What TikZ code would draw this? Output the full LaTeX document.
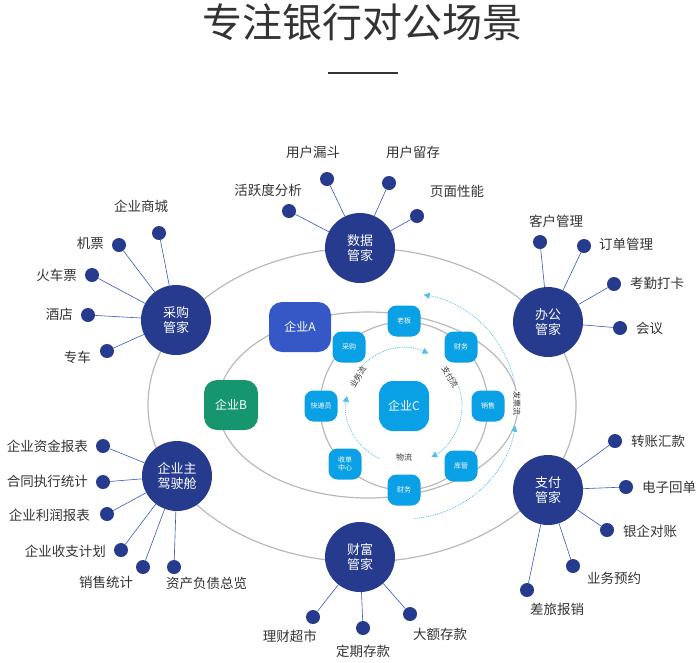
\documentclass[tikz,border=0pt]{standalone}
\usepackage{fontspec}
\setmainfont{Noto Sans CJK SC}
\usetikzlibrary{arrows.meta}
\definecolor{navy}{HTML}{263A8E}
\definecolor{cyanb}{HTML}{0AA0E6}
\definecolor{blueA}{HTML}{3558C6}
\definecolor{greenB}{HTML}{16966F}
\definecolor{txt}{HTML}{333333}
\begin{document}
\begin{tikzpicture}[x=1pt,y=-1pt,
 hub/.style={circle,fill=navy,minimum size=70pt,inner sep=0pt,text=white,font=\fontsize{13}{15}\selectfont,align=center},
 dot/.style={circle,fill=navy,minimum size=14pt,inner sep=0pt},
 lbl/.style={text=txt,font=\fontsize{13.5}{15}\selectfont,inner sep=1pt},
 spoke/.style={draw=blueA,line width=0.6pt},
 sm/.style={rounded corners=9pt,fill=cyanb,minimum width=33pt,minimum height=31pt,inner sep=0pt,text=white,font=\fontsize{7}{8}\selectfont,align=center},
 ring/.style={draw=gray!55,line width=1.2pt},
 flow/.style={draw=cyanb!70,densely dotted,line width=0.8pt,-{Triangle[length=6pt,width=6pt]}},
 fl/.style={text=txt,font=\fontsize{8}{9}\selectfont,inner sep=0pt,fill=white}]
\useasboundingbox (0,0) rectangle (700,662);
\node[text=txt,font=\fontsize{40}{44}\selectfont] (title) at (362,22) {专注银行对公场景};
\draw[line width=2pt,txt] (328,73) coordinate (t1) -- (398,73) coordinate (t2);
\draw[ring] (362,405) ellipse [x radius=214,y radius=157];
\draw[ring] (368,405) ellipse [x radius=150,y radius=93];
\draw[ring] (404,406) circle [radius=84];
% hubs
\node[hub] (cg) at (176,320) {采购\\管家};
\node[hub] (qy) at (177,476) {企业主\\驾驶舱};
\node[hub] (sj) at (360,248) {数据\\管家};
\node[hub] (cf) at (360,557) {财富\\管家};
\node[hub] (bg) at (548,322) {办公\\管家};
\node[hub] (zf) at (548,490) {支付\\管家};
% center nodes
\node[rounded corners=13pt,fill=blueA,minimum width=62pt,minimum height=50pt,text=white,font=\fontsize{12}{14}\selectfont] (A) at (300,327) {企业A};
\node[rounded corners=13pt,fill=greenB,minimum width=54pt,minimum height=50pt,text=white,font=\fontsize{12}{14}\selectfont] (B) at (231,405) {企业B};
\node[rounded corners=14pt,fill=cyanb,minimum width=50pt,minimum height=50pt,text=white,font=\fontsize{12}{14}\selectfont] (C) at (404,406) {企业C};
\node[sm] (n1) at (404,321) {老板};
\node[sm] (n2) at (461,347) {财务};
\node[sm] (n3) at (488,406) {销售};
\node[sm] (n4) at (461,466) {库管};
\node[sm] (n5) at (404,490) {财务};
\node[sm] (n6) at (345,464) {收单\\中心};
\node[sm] (n7) at (321,406) {快递员};
\node[sm] (n8) at (349,347) {采购};
% flows (y axis points down: angles are clockwise)
\draw[flow] (404,406) ++(-150:58) arc[start angle=-150,end angle=-65,radius=58] coordinate (f1);
\draw[flow] (404,406) ++(-35:58) arc[start angle=-35,end angle=62,radius=58] coordinate (f2);
\draw[flow] (404,406) ++(115:58) arc[start angle=115,end angle=190,radius=58] coordinate (f3);
\node[fl,rotate=60] (l1) at (358,377) {业务流};
\node[fl,rotate=-60] (l2) at (450,377) {支付流};
\node[fl] (l3) at (404,457) {物流};
\draw[flow] (404,406) ++(85:113) arc[start angle=85,end angle=10,radius=113] coordinate (f4);
\draw[flow] (404,406) ++(-10:113) arc[start angle=-10,end angle=-80,radius=113] coordinate (f5);
\node[fl,rotate=-90] (l4) at (517,403) {发票流};
\newcommand{\sat}[6]{\node[dot] (#1) at (#2) {}; \draw[spoke] (#3) -- (#1); \node[lbl,anchor=#4] (#1t) at (#5) {#6};}
\sat{a1}{159,233}{cg}{south}{141,214}{企业商城}
\sat{a2}{119,245}{cg}{east}{105,243}{机票}
\sat{a3}{92,275}{cg}{east}{78,275}{火车票}
\sat{a4}{88,315}{cg}{east}{74,314}{酒店}
\sat{a5}{107,351}{cg}{east}{92,357}{专车}
\sat{b1}{103,446}{qy}{east}{89,446}{企业资金报表}
\sat{b2}{103,482}{qy}{east}{89,481}{合同执行统计}
\sat{b3}{107,514}{qy}{east}{91,515}{企业利润报表}
\sat{b4}{121,550}{qy}{east}{107,551}{企业收支计划}
\sat{b5}{143,567}{qy}{north}{106,575}{销售统计}
\sat{b6}{174,567}{qy}{north west}{165,576}{资产负债总览}
\sat{c1}{289,211}{sj}{east}{303,190}{活跃度分析}
\sat{c2}{327,179}{sj}{south}{313,160}{用户漏斗}
\sat{c3}{389,183}{sj}{south}{413,160}{用户留存}
\sat{c4}{417,216}{sj}{south}{457,199}{页面性能}
\sat{d1}{313,617}{cf}{east}{318,636}{理财超市}
\sat{d2}{363,628}{cf}{north}{363,644}{定期存款}
\sat{d3}{410,614}{cf}{west}{412,634}{大额存款}
\sat{e1}{540,242}{bg}{south}{556,229}{客户管理}
\sat{e2}{584,246}{bg}{west}{598,244}{订单管理}
\sat{e3}{614,284}{bg}{west}{629,283}{考勤打卡}
\sat{e4}{620,328}{bg}{west}{635,328}{会议}
\sat{g1}{615,441}{zf}{west}{630,441}{转账汇款}
\sat{g2}{626,487}{zf}{west}{641,487}{电子回单}
\sat{g3}{607,530}{zf}{west}{622,531}{银企对账}
\sat{g4}{573,566}{zf}{west}{586,578}{业务预约}
\sat{g5}{527,590}{zf}{north}{557,602}{差旅报销}
\end{tikzpicture}
\end{document}
